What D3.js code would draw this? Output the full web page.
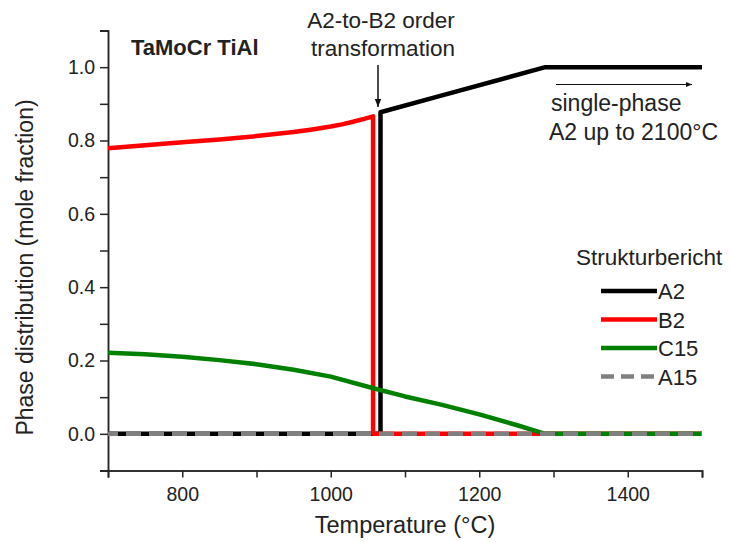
<!DOCTYPE html>
<html>
<head>
<meta charset="utf-8">
<script src="https://cdn.jsdelivr.net/npm/d3@7"></script>
<style>
  body { margin: 0; background: #fff; }
  svg { display: block; font-family: "Liberation Sans", Arial, sans-serif; }
</style>
</head>
<body>
<svg id="chart" width="731" height="542"></svg>
<script>
// ---- Data ----
const seriesNames = ["A2", "B2", "C15", "A15"];
const seriesColors = ["#000000", "#ff0000", "#008000", "#808080"];

const a2Temp  = [700, 1067, 1067, 1150, 1289, 1500];
const a2Value = [0, 0, 0.877, 0.923, 1.0, 1.0];

const b2Temp  = [700, 750, 800, 850, 900, 950, 975, 1000, 1015, 1030, 1045, 1057, 1057, 1500];
const b2Value = [0.779, 0.787, 0.795, 0.803, 0.812, 0.823, 0.830, 0.838, 0.844, 0.851, 0.859, 0.866, 0, 0];

const c15Temp  = [700, 750, 800, 850, 900, 950, 1000, 1060, 1100, 1150, 1200, 1250, 1289, 1500];
const c15Value = [0.221, 0.217, 0.21, 0.201, 0.19, 0.175, 0.156, 0.123, 0.102, 0.079, 0.053, 0.024, 0, 0];

const a15Temp  = [700, 1500];
const a15Value = [0, 0];

const xMajorTicks = [800, 1000, 1200, 1400];
const xMinorTicks = [700, 900, 1100, 1300, 1500];
const yMajorTicks = [0.0, 0.2, 0.4, 0.6, 0.8, 1.0];
const yMinorTicks = [-0.1, 0.1, 0.3, 0.5, 0.7, 0.9, 1.1];

const titleText = "TaMoCr TiAl";
const xTitle = "Temperature (°C)";
const yTitle = "Phase distribution (mole fraction)";
const legendTitle = "Strukturbericht";

// ---- Layout ----
const svg = d3.select("#chart");
const x = d3.scaleLinear().domain([700, 1500]).range([108, 702]);
const y = d3.scaleLinear().domain([-0.1, 1.1]).range([470.5, 30.5]);
const axisColor = "#262626";
const textColor = "#222";

// Axes
const xAxisMajor = d3.axisBottom(x).tickValues(xMajorTicks).tickSize(7).tickPadding(10)
  .tickFormat(d3.format("d"));
const xAxisMinor = d3.axisBottom(x).tickValues(xMinorTicks).tickSize(7).tickFormat("");
const yAxisMajor = d3.axisLeft(y).tickValues(yMajorTicks).tickSize(8).tickPadding(5)
  .tickFormat(d3.format(".1f"));
const yAxisMinor = d3.axisLeft(y).tickValues(yMinorTicks).tickSize(8).tickFormat("");

function styleAxis(g) {
  g.selectAll("path").attr("stroke", axisColor).attr("stroke-width", 1.5);
  g.selectAll("line").attr("stroke", axisColor).attr("stroke-width", 1.5);
  g.selectAll("text").attr("fill", textColor).style("font-size", "19.5px")
    .style("font-family", "'Liberation Sans', Arial, sans-serif");
}

svg.append("g").attr("transform", `translate(0,${y(-0.1)})`).call(xAxisMinor).call(styleAxis);
svg.append("g").attr("transform", `translate(0,${y(-0.1)})`).call(xAxisMajor).call(styleAxis);
svg.append("g").attr("transform", `translate(${x(700)},0)`).call(yAxisMinor).call(styleAxis);
svg.append("g").attr("transform", `translate(${x(700)},0)`).call(yAxisMajor).call(styleAxis);

// Axis titles
svg.append("text")
  .attr("x", 405).attr("y", 533)
  .attr("text-anchor", "middle")
  .attr("fill", textColor)
  .style("font-size", "23.5px")
  .text(xTitle);

svg.append("text")
  .attr("transform", `translate(33,${y(0.5) + 17}) rotate(-90)`)
  .attr("text-anchor", "middle")
  .attr("fill", textColor)
  .style("font-size", "23px")
  .text(yTitle);

// Lines
const line = d3.line().x(d => x(d[0])).y(d => y(d[1]));
const seriesData = [
  d3.zip(a2Temp, a2Value),
  d3.zip(b2Temp, b2Value),
  d3.zip(c15Temp, c15Value),
  d3.zip(a15Temp, a15Value)
];

seriesData.forEach((data, i) => {
  svg.append("path")
    .datum(data)
    .attr("d", line)
    .attr("fill", "none")
    .attr("stroke", seriesColors[i])
    .attr("stroke-width", 4.5)
    .attr("stroke-linejoin", "round")
    .attr("stroke-dasharray", i === 3 ? "15,8" : null)
    .attr("stroke-dashoffset", i === 3 ? 5 : null);
});

// Title
svg.append("text")
  .attr("x", 131).attr("y", 55)
  .attr("fill", textColor)
  .style("font-size", "22px")
  .style("font-weight", "bold")
  .text(titleText);

// Arrow markers
const defs = svg.append("defs");
defs.append("marker")
  .attr("id", "arrowDown")
  .attr("viewBox", "0 0 10 10")
  .attr("refX", 10).attr("refY", 5)
  .attr("markerWidth", 9).attr("markerHeight", 8)
  .attr("markerUnits", "userSpaceOnUse")
  .attr("orient", "auto")
  .append("path").attr("d", "M0,1 L10,5 L0,9 Z").attr("fill", "#111");

defs.append("marker")
  .attr("id", "arrowRight")
  .attr("viewBox", "0 0 10 10")
  .attr("refX", 10).attr("refY", 5)
  .attr("markerWidth", 9).attr("markerHeight", 6)
  .attr("markerUnits", "userSpaceOnUse")
  .attr("orient", "auto")
  .append("path").attr("d", "M0,1 L10,5 L0,9 Z").attr("fill", "#111");

// Top annotation
svg.append("text")
  .attr("x", 381).attr("y", 28)
  .attr("text-anchor", "middle")
  .attr("fill", textColor)
  .style("font-size", "22.5px")
  .text("A2-to-B2 order");
svg.append("text")
  .attr("x", 383).attr("y", 56)
  .attr("text-anchor", "middle")
  .attr("fill", textColor)
  .style("font-size", "22.5px")
  .text("transformation");
svg.append("line")
  .attr("x1", 378).attr("y1", 65)
  .attr("x2", 378).attr("y2", 107)
  .attr("stroke", "#111").attr("stroke-width", 1.5)
  .attr("marker-end", "url(#arrowDown)");

// Right annotation
svg.append("line")
  .attr("x1", 556).attr("y1", 84.5)
  .attr("x2", 692).attr("y2", 84.5)
  .attr("stroke", "#111").attr("stroke-width", 1.2)
  .attr("marker-end", "url(#arrowRight)");
svg.append("text")
  .attr("x", 551).attr("y", 111)
  .attr("fill", textColor)
  .style("font-size", "23px")
  .text("single-phase");
svg.append("text")
  .attr("x", 549).attr("y", 140)
  .attr("fill", textColor)
  .style("font-size", "23px")
  .text("A2 up to 2100°C");

// Legend
svg.append("text")
  .attr("x", 576).attr("y", 265)
  .attr("fill", textColor)
  .style("font-size", "22.5px")
  .text(legendTitle);

const legendY0 = 291, legendStep = 28.5;
seriesNames.forEach((name, i) => {
  const ly = legendY0 + i * legendStep;
  svg.append("line")
    .attr("x1", 601).attr("x2", 657)
    .attr("y1", ly).attr("y2", ly)
    .attr("stroke", seriesColors[i])
    .attr("stroke-width", 4.5)
    .attr("stroke-dasharray", i === 3 ? "13,7" : null);
  svg.append("text")
    .attr("x", 658).attr("y", ly + 8)
    .attr("fill", textColor)
    .style("font-size", "22px")
    .text(name);
});
</script>
</body>
</html>
